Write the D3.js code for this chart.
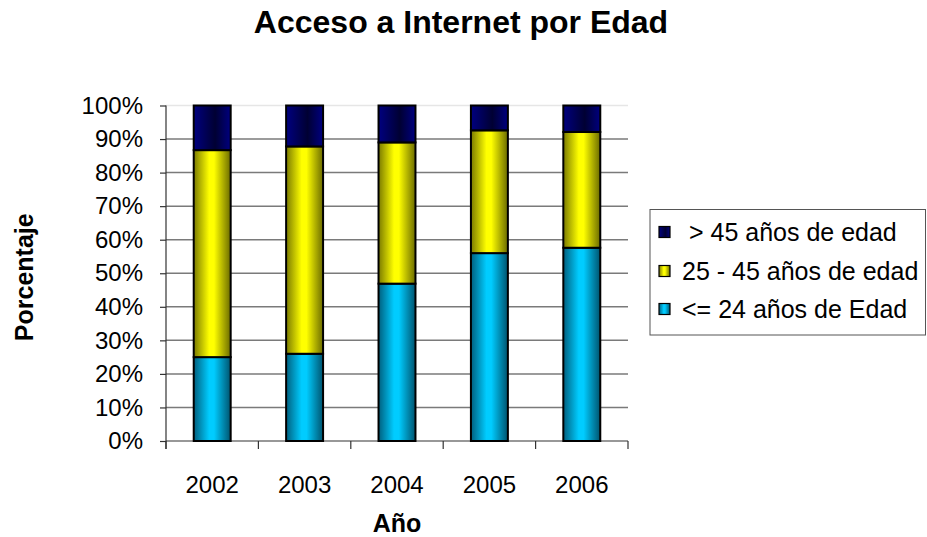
<!DOCTYPE html>
<html><head><meta charset="utf-8">
<script src="https://cdn.jsdelivr.net/npm/d3@7"></script>
<style>
body{margin:0;background:#fff;}
text{font-family:"Liberation Sans",Arial,sans-serif;}
</style></head>
<body><svg id="c" width="927" height="537"></svg>
<script>
const years = ["2002","2003","2004","2005","2006"];
const under24 = [25, 26, 46.9, 56, 57.6];
const age25to45 = [61.7, 61.8, 42.1, 36.6, 34.5];
const over45 = [13.3, 12.2, 11, 7.4, 7.9];
const seriesNames = ["<= 24 años de Edad", "25 - 45 años de edad", " > 45 años de edad"];
const yTicks = [0,10,20,30,40,50,60,70,80,90,100];

const svg = d3.select("#c");
const W = 927, H = 537;
const plot = {l:166, r:628, t:105.5, b:441};

// gradients
const defs = svg.append("defs");
const grads = [
  {id:"gCyan", stops:[[0,"#005f7e"],[0.42,"#00ccff"],[0.55,"#00ccff"],[1,"#00536e"]]},
  {id:"gYel", stops:[[0,"#7a7a00"],[0.42,"#ffff00"],[0.55,"#ffff00"],[1,"#6b6b00"]]},
  {id:"gNavy", stops:[[0,"#000080"],[0.58,"#000033"],[1,"#000080"]]}
];
grads.forEach(g=>{
  const lg = defs.append("linearGradient").attr("id",g.id).attr("x1","0").attr("x2","1").attr("y1","0").attr("y2","0");
  g.stops.forEach(s=>lg.append("stop").attr("offset",s[0]).attr("stop-color",s[1]));
});
const fills = ["url(#gCyan)","url(#gYel)","url(#gNavy)"];

const x = d3.scaleBand().domain(years).range([plot.l, plot.r]).paddingInner(0.6).paddingOuter(0.3);
const y = d3.scaleLinear().domain([0,100]).range([plot.b, plot.t]);

// gridlines
svg.append("g").selectAll("line").data(yTicks.filter(d=>d>0)).join("line")
  .attr("x1",plot.l).attr("x2",plot.r).attr("y1",d=>y(d)).attr("y2",d=>y(d))
  .attr("stroke",d=>d===100?"#e6e6e6":"#7a7a7a").attr("stroke-width",1.5);

// y axis
const yAxis = svg.append("g").attr("transform",`translate(${plot.l},0)`)
  .call(d3.axisLeft(y).tickValues(yTicks).tickFormat(d=>d+"%").tickSize(6).tickPadding(17));
yAxis.select(".domain").attr("stroke","#333").attr("stroke-width",1.2).attr("d",`M0,${plot.t}V${plot.b+8}`);
yAxis.selectAll(".tick line").attr("stroke","#333").attr("stroke-width",1.2);
yAxis.selectAll(".tick text").attr("font-size",24).attr("fill","#000").attr("font-family","Liberation Sans, Arial, sans-serif");

// x axis
const xAxis = svg.append("g").attr("transform",`translate(0,${plot.b})`)
  .call(d3.axisBottom(x).tickSize(0).tickPadding(35));
xAxis.select(".domain").attr("stroke","#333").attr("stroke-width",1.2).attr("d",`M${plot.l},0H${plot.r}`);
xAxis.selectAll(".tick text").attr("font-size",24).attr("fill","#000").attr("font-family","Liberation Sans, Arial, sans-serif");
// boundary ticks
const step = x.step();
const bounds = d3.range(years.length+1).map(i=>plot.l + i*(plot.r-plot.l)/years.length);
xAxis.append("g").selectAll("line").data(bounds).join("line")
  .attr("x1",d=>d).attr("x2",d=>d).attr("y1",0).attr("y2",8).attr("stroke","#333").attr("stroke-width",1.2);

// stacked bars
const table = years.map((yr,i)=>({year:yr, s0:under24[i], s1:age25to45[i], s2:over45[i]}));
const stack = d3.stack().keys(["s0","s1","s2"])(table);
svg.append("g").selectAll("g").data(stack).join("g")
  .attr("fill",(d,i)=>fills[i])
  .selectAll("rect").data(d=>d).join("rect")
  .attr("x",d=>x(d.data.year)).attr("width",x.bandwidth())
  .attr("y",d=>y(d[1])).attr("height",d=>y(d[0])-y(d[1]))
  .attr("stroke","#000").attr("stroke-width",2);

// title
svg.append("text").attr("x",461).attr("y",33).attr("text-anchor","middle")
  .attr("font-size",32).attr("font-weight","bold").text("Acceso a Internet por Edad");
// axis titles
svg.append("text").attr("x",(plot.l+plot.r)/2).attr("y",532).attr("text-anchor","middle")
  .attr("font-size",25).attr("font-weight","bold").text("Año");
svg.append("text").attr("transform",`translate(33,${(plot.t+plot.b)/2+4}) rotate(-90)`).attr("text-anchor","middle")
  .attr("font-size",25).attr("font-weight","bold").text("Porcentaje");

// legend
const lg = svg.append("g");
lg.append("rect").attr("x",650).attr("y",209.5).attr("width",275.5).attr("height",125.5)
  .attr("fill","#fff").attr("stroke","#555").attr("stroke-width",1);
const legendOrder = [2,1,0];
const rowsY = [232, 271, 309];
legendOrder.forEach((si,k)=>{
  lg.append("rect").attr("x",659).attr("y",rowsY[k]-5.5).attr("width",11).attr("height",11)
    .attr("fill",fills[si]).attr("stroke","#000").attr("stroke-width",1.2);
  lg.append("text").attr("x",682).attr("y",rowsY[k]).attr("dy","0.36em")
    .attr("font-size",25).style("white-space","pre").text(seriesNames[si]);
});
</script></body></html>
